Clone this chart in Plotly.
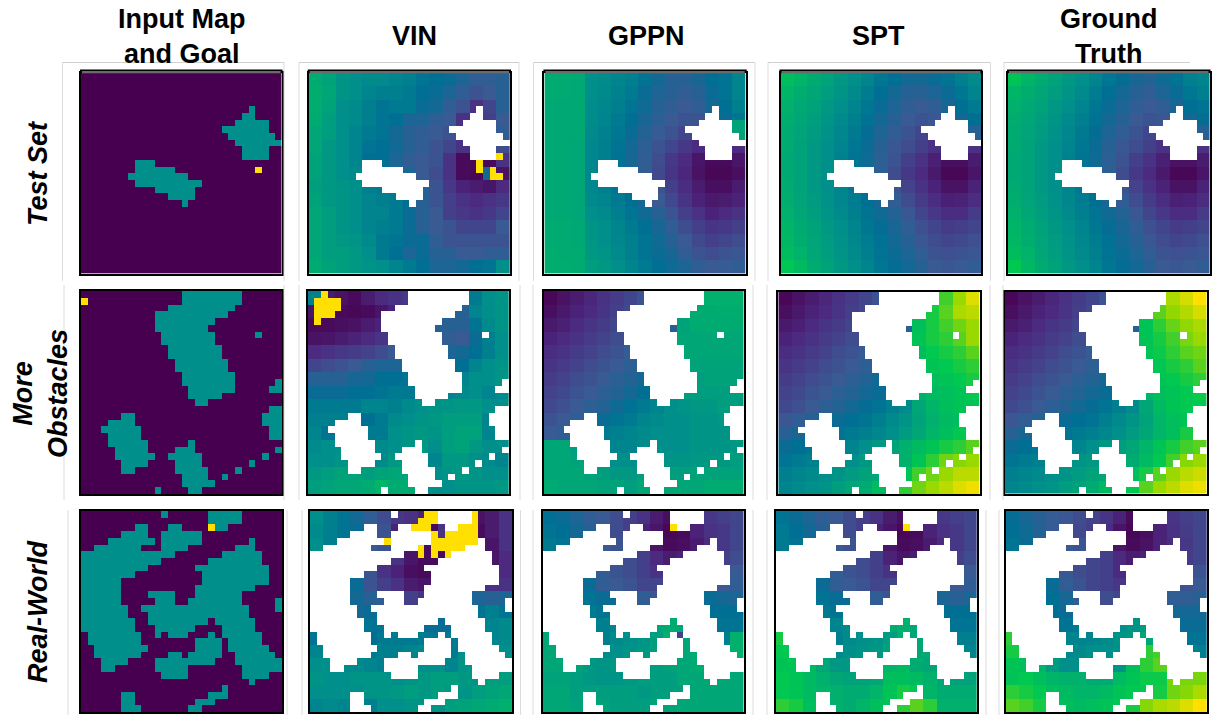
import numpy as np
import plotly.graph_objects as go

W, H = 1213, 715
COL_TITLES = ["Input Map<br>and Goal", "VIN", "GPPN", "SPT", "Ground<br>Truth"]
ROW_TITLES = ["Test Set", "More<br>Obstacles", "Real-World"]

# cells (row by row, inclusive column spans) that are obstacles, 30 x 30 grid
TEST_OBST = ["", "", "", "", "", "25", "24-25", "23-27", "21-27", "22-28", "23-29", "24-27", "24-27",
             "8-10", "8-13", "7-15", "8-17", "11-16", "13-16", "15", "", "", "", "", "", "", "", "", "", ""]
TEST_GOAL = (14, 26)
MORE_OBST = ["15-23", "15-23", "13-22", "11-21", "11-19", "11-18", "12-19,26", "12-19", "13-20", "13-20",
             "14-21", "14-21", "15-22", "15-22,29", "16-22,28-29", "16-20", "17-18", "28-29",
             "6-7,27-29", "4-7,27-29", "3-8,28-29", "4-8,28-29", "4-9,16", "5-9,14-16,29",
             "5-10,13-17,27", "6-9,14-17,25", "6-7,14-18,23", "15-18,21", "15-19", "11,16-17"]
MORE_GOAL = (1, 0)
REAL_OBST = ["12,19-23", "19-23", "8-9,13-14,19-21", "6-9,12-17", "4-10,12-17,25", "2-8,12-15,23-25",
             "0-13,21-26", "0-11,19-26", "0-9,17-27", "0-7,18-27", "0-5,18-27", "0-5,17-25",
             "0-5,10-13,17-23", "0-5,11-13,16-23,29", "0-6,9-24,29", "0-6,10-24", "0-7,10-18,20-25",
             "0-7,11-16,21-25", "1-8,11,13-15,19,21-26", "1-8,17-20,22-26", "2-9,17-20,22-27",
             "2-8,13-14,16-20,23-28", "3-6,11-19,23-29", "3-4,11-15,24-29", "12-15,24-27", "25", "21",
             "6-7,19-21", "6-7,17-19", "6-8,16-17"]
REAL_GOAL = (2, 19)

# estimated value levels, 0 = goal side (dark) .. 100 = far side (yellow), in blocks of 2 x 2 cells
TEST_VIN = """62 58 52 50 48 48 46 44 40 38 36 32 28 28 30
63 60 52 50 46 44 44 42 38 36 32 28 24 26 30
63 58 50 48 44 40 42 42 36 34 28 24 14 20 30
62 56 50 48 44 40 38 32 32 28 26 14 14 18 26
60 56 50 46 42 40 34 30 28 26 24 20 18 14 28
60 54 50 46 40 38 34 30 28 24 20 14 12 14 22
58 54 50 46 38 38 32 28 26 24 14 3 2 5 14
58 54 50 48 44 38 34 32 26 22 14 3 2 2 5
56 54 52 50 44 42 38 38 30 24 16 10 8 6 12
58 54 52 50 46 44 42 38 30 24 18 14 12 14 16
60 56 52 50 46 46 42 36 30 26 18 16 14 16 20
60 56 52 50 46 44 42 36 30 26 24 20 20 20 26
60 56 54 52 48 42 40 36 36 28 24 24 24 24 24
60 56 56 54 50 42 38 32 36 30 30 26 26 28 28
62 58 56 54 52 50 46 42 38 32 32 34 38 40 50"""
TEST_GPPN = """62 62 61 50 49 46 44 40 34 30 30 33 38 40 46
62 62 61 50 48 45 42 36 32 30 28 30 36 40 46
61 61 61 49 47 44 40 35 30 28 26 28 34 38 44
61 61 61 49 46 42 38 33 29 26 24 24 30 36 40
61 61 61 48 45 41 36 31 27 24 20 20 22 28 30
61 61 60 47 44 40 34 29 24 20 16 12 10 10 12
61 61 60 47 44 39 33 28 22 16 12 6 3 3 6
61 61 60 47 44 39 34 28 21 15 11 5 2 2 4
61 61 60 47 44 40 36 30 24 18 13 8 4 4 8
61 61 60 48 46 42 38 33 26 21 15 10 7 8 10
61 61 60 50 48 44 40 35 30 24 18 14 10 12 14
62 62 61 52 50 46 42 38 33 28 22 18 15 16 18
62 62 61 53 50 47 44 40 35 30 26 21 18 20 22
63 62 62 54 52 48 44 40 36 33 28 24 22 24 25
63 63 62 56 54 50 46 42 38 35 32 28 26 27 28"""
TEST_SPT = """70 66 62 58 54 50 46 41 38 34 34 36 40 44 48
66 63 60 56 52 48 43 38 34 30 30 32 36 41 46
64 61 58 54 50 46 41 36 32 28 26 28 33 38 42
63 60 56 52 48 44 39 34 30 26 24 25 30 34 38
62 59 55 51 47 42 37 32 28 24 20 20 22 28 30
62 58 54 50 46 41 36 30 25 22 18 14 10 12 14
61 58 54 50 45 40 35 29 24 18 14 9 4 4 8
61 58 54 50 45 40 36 29 22 16 12 7 2 2 6
62 58 54 50 46 41 37 32 24 19 14 10 5 5 10
63 59 55 51 47 43 38 33 28 22 17 13 9 10 13
64 60 56 52 48 44 40 35 31 25 20 16 13 13 17
66 62 58 54 50 46 41 37 33 28 23 20 17 18 20
67 63 59 55 51 47 43 39 34 30 25 22 20 21 23
69 65 60 56 52 48 44 40 36 32 28 24 23 24 25
73 68 62 58 54 50 46 41 37 34 30 26 25 26 28"""
TEST_GT = """72 66 62 58 54 50 46 41 37 33 31 35 40 44 46
66 63 60 56 52 48 43 38 34 30 28 32 36 41 44
64 61 58 54 50 46 41 36 32 28 26 28 33 38 40
63 60 56 52 48 44 39 34 30 26 24 25 30 34 37
62 59 55 51 47 42 37 32 28 24 20 20 22 28 30
62 58 54 50 46 41 36 30 25 22 18 14 10 12 14
61 58 54 50 45 40 35 29 24 18 14 9 5 5 8
61 58 54 50 45 40 36 29 22 16 12 7 2 2 6
62 58 54 50 46 41 37 32 24 19 14 10 5 5 10
63 59 55 51 47 43 38 33 28 22 17 13 9 10 13
64 60 56 52 48 44 40 35 31 25 20 16 13 13 17
66 62 58 54 50 46 41 37 33 28 23 20 17 18 20
67 63 59 55 51 47 43 39 34 30 25 22 20 21 23
69 65 60 56 52 48 44 40 36 32 28 24 23 24 25
74 67 62 58 54 50 46 41 37 34 30 26 25 26 28"""

MORE_VIN = """45 8 5 3 8 12 14 16 22 26 26 26 42 50 52
6 3 3 2 3 6 10 12 6 18 30 30 46 50 52
3 3 4 5 8 10 14 12 4 30 30 30 40 48 52
5 6 8 10 12 15 16 18 24 24 28 26 36 44 50
12 14 16 17 19 22 26 30 30 40 32 34 38 44 50
20 22 24 26 30 32 32 34 30 30 36 38 46 50 52
30 30 30 33 34 38 38 40 42 42 42 46 50 50 52
36 36 36 38 38 40 42 42 44 46 46 48 50 46 48
42 42 42 42 46 46 44 48 50 52 52 54 54 50 50
44 44 44 40 38 42 48 50 52 54 56 56 56 46 42
46 40 38 40 42 42 50 52 54 52 56 58 58 46 44
48 50 50 46 46 48 50 52 54 50 56 58 54 50 50
50 50 52 48 46 48 54 54 48 46 54 54 50 48 46
54 56 58 58 56 58 60 58 54 50 52 54 52 50 50
56 58 60 60 62 66 62 62 60 50 50 52 52 52 54"""
MORE_GPPN = """2 5 8 11 14 17 20 24 28 30 30 30 64 64 64
4 7 10 12 15 18 21 24 28 30 30 62 62 63 63
7 9 12 15 17 20 23 26 28 30 58 62 62 62 62
10 12 14 17 19 22 25 28 30 58 60 60 60 60 60
13 14 17 19 22 24 27 30 32 56 60 60 60 60 60
15 17 19 22 24 26 29 31 34 56 58 58 58 58 58
17 19 22 24 26 29 31 34 38 54 56 56 58 58 58
19 21 24 26 29 31 34 38 44 52 56 56 56 56 56
21 23 26 29 31 35 39 42 46 50 52 54 54 56 56
24 26 29 31 36 40 42 46 48 50 50 52 52 54 54
26 28 36 38 42 44 46 48 50 50 50 52 52 52 52
60 60 56 52 48 46 46 48 50 50 50 52 52 52 54
60 60 58 54 50 50 50 54 52 52 52 54 54 54 56
60 60 60 58 56 54 54 56 56 56 56 58 58 58 58
62 60 60 60 58 58 56 60 60 60 60 60 62 62 62"""
MORE_SPT = """2 5 8 11 14 17 20 24 28 30 30 30 80 88 96
4 7 10 12 15 18 21 24 28 30 30 76 82 90 92
7 9 12 15 17 20 23 26 28 30 70 76 80 84 88
10 12 14 17 19 22 25 28 30 60 72 76 78 82 88
13 14 17 19 22 24 27 30 32 60 70 74 76 78 82
15 17 19 22 24 26 29 31 34 62 68 72 74 76 78
17 19 22 24 26 29 31 34 36 62 68 70 72 74 76
19 21 24 26 29 31 34 36 40 54 64 68 70 72 74
21 23 26 29 31 34 37 40 44 48 60 66 70 72 72
25 28 31 34 36 38 40 44 48 52 58 64 68 70 72
30 33 35 38 40 42 44 47 50 55 60 66 70 74 76
36 38 40 42 44 46 50 54 58 64 68 72 76 78 82
40 42 44 46 48 50 54 58 60 64 72 78 84 86 88
44 46 48 50 52 55 58 60 64 72 80 84 88 92 92
46 48 50 52 56 60 62 68 70 78 84 88 92 96 98"""
MORE_GT = """2 5 8 11 14 17 20 24 28 30 30 30 90 95 100
4 7 10 12 15 18 21 24 28 30 30 82 87 91 95
7 9 12 15 17 20 23 26 28 30 72 78 83 87 90
10 12 14 17 19 22 25 28 30 60 72 76 80 85 88
13 14 17 19 22 24 27 30 32 60 72 75 78 82 84
15 17 19 22 24 26 29 31 34 64 70 73 76 78 82
17 19 22 24 26 29 31 34 36 60 68 72 74 76 78
19 21 24 26 29 31 34 36 40 52 66 70 72 74 75
21 23 26 29 31 34 37 40 44 48 60 68 72 74 74
25 28 31 34 36 38 40 44 48 52 58 66 70 72 72
30 33 35 38 40 42 44 47 50 55 60 66 70 76 76
36 38 40 42 44 46 50 54 56 60 66 72 76 80 82
40 42 44 46 48 52 54 56 60 62 68 74 80 86 88
44 46 48 50 52 55 58 60 64 70 76 82 88 92 94
46 48 50 52 56 58 62 68 70 74 82 88 92 96 98"""

REAL_VIN = """50 44 40 34 28 22 16 14 10 8 8 8 5 8 14
48 44 40 36 30 24 10 8 5 3 3 3 3 8 14
50 44 38 30 26 24 14 8 5 3 3 3 3 6 14
48 44 40 32 24 18 14 6 3 3 3 3 3 6 12
44 40 36 32 24 14 10 4 3 3 6 8 8 8 12
40 36 38 36 24 18 14 8 6 12 12 16 20 14 14
38 36 34 34 30 28 20 18 14 16 22 28 32 30 32
36 40 34 34 36 34 34 32 30 30 36 36 40 44 40
40 40 38 40 40 40 42 36 36 36 36 36 44 46 48
40 46 42 40 38 42 42 42 42 40 42 48 44 46 48
46 46 44 46 42 44 44 46 48 44 42 50 46 50 50
50 50 48 48 46 44 46 50 50 50 46 52 50 50 50
52 50 50 52 52 52 50 52 54 56 56 54 52 56 56
50 50 50 50 52 52 54 56 54 56 54 52 56 58 60
46 48 46 42 44 50 50 52 52 52 56 58 60 62 64"""
REAL_GPPN = """38 36 32 28 26 22 18 14 8 4 8 14 16 18 20
40 38 34 30 26 22 18 10 6 2 3 10 14 16 20
42 40 36 32 26 24 20 14 6 3 4 8 12 16 20
44 40 38 34 30 24 22 18 12 8 10 12 16 18 22
44 42 40 36 28 24 22 18 14 12 14 18 20 24 26
44 42 40 36 28 26 24 20 20 18 18 22 26 26 28
44 44 42 40 36 36 30 28 24 26 30 32 36 34 32
44 44 42 42 40 40 38 40 44 46 52 38 38 38 38
44 42 42 46 44 46 46 48 60 62 60 40 40 40 40
60 60 58 46 44 48 50 52 56 64 60 64 42 44 64
60 60 58 52 48 50 52 54 56 58 60 62 58 60 64
60 60 58 54 52 54 56 58 56 58 60 62 58 60 60
58 58 56 54 52 52 54 56 56 56 60 60 60 60 60
60 60 56 56 56 56 56 54 56 56 56 60 60 60 60
60 60 58 58 58 56 56 56 58 58 60 60 60 60 60"""
REAL_SPT = """40 36 32 28 26 22 18 14 8 4 8 14 16 18 20
42 38 34 30 26 22 18 10 6 2 3 10 14 16 20
42 40 36 32 26 24 20 14 6 3 4 8 12 16 20
42 40 38 34 30 24 22 18 10 6 8 12 16 18 22
44 42 40 36 28 24 22 18 14 12 14 18 20 24 26
44 42 40 36 28 26 24 20 20 18 18 22 26 26 28
44 44 42 40 36 36 30 28 24 26 30 32 32 30 32
44 44 42 42 40 40 38 40 46 48 52 38 38 38 38
44 44 42 46 46 48 46 48 62 64 60 40 40 40 40
76 72 68 46 44 48 50 52 56 64 60 64 42 44 44
74 72 70 54 48 50 52 54 58 60 60 62 60 46 46
72 72 68 60 54 54 56 64 66 68 62 60 58 54 52
74 72 68 64 60 58 58 60 70 70 68 64 60 58 58
74 72 68 66 64 62 62 66 72 76 74 66 62 62 62
78 76 70 66 64 62 66 70 72 78 82 78 64 64 64"""
REAL_GT = """37 33 30 27 25 22 19 15 10 3 6 12 15 18 20
38 35 31 27 25 21 18 13 6 2 4 10 14 17 20
40 36 32 30 26 24 22 14 6 3 5 10 13 16 20
40 38 34 30 28 24 20 18 12 8 10 12 15 17 20
44 40 36 30 25 22 20 18 12 8 10 14 16 20 24
44 42 40 36 28 24 20 18 16 14 14 16 20 24 26
44 42 40 38 33 28 24 22 20 20 22 24 28 28 30
44 42 40 38 36 35 30 28 24 26 28 30 34 34 34
44 42 40 42 40 42 44 42 50 52 55 36 36 36 36
78 70 60 48 46 46 46 48 52 54 60 82 40 40 40
76 72 70 50 48 48 50 50 50 56 78 80 44 45 44
72 70 66 55 50 50 48 50 52 70 78 82 70 44 44
72 74 70 66 64 64 62 62 68 72 75 75 85 85 85
78 76 74 70 68 66 66 68 72 74 74 76 84 86 90
82 80 76 72 70 68 70 72 74 76 86 90 92 96 100"""

# single cells that stand out from their surroundings: (level, row, span)
TEST_VIN_CELLS = [(100, 12, "28"), (100, 13, "25"), (100, 14, "25,27"), (100, 15, "27-28"),
                  (34, 14, "26"), (34, 15, "26"), (3, 13, "26-27"), (3, 12, "23")]
TEST_GPPN_CELLS = [(58, 7, "28-29"), (58, 8, "28-29"), (58, 9, "29")]
MORE_VIN_CELLS = [(100, 0, "2"), (100, 1, "1-4"), (100, 2, "1-4"), (100, 3, "1-3"), (100, 4, "1")]
REAL_VIN_CELLS = [(100, 0, "17-18,24"), (100, 1, "16-18,24"), (100, 2, "15-17,22-24"), (100, 3, "18,20-24"),
                  (100, 4, "11,18-24"), (100, 5, "16,18-22"), (100, 6, "16,18,20"),
                  (14, 2, "19"), (14, 3, "19"), (3, 5, "17"), (3, 6, "17,19")]
REAL_GPPN_CELLS = [(18, 18, "20"), (100, 2, "19")]
REAL_SPT_CELLS = [(100, 2, "19")]
NO_CELLS = []

# pixel boxes of the panels (left, top, right, bottom)
BOXES = [
    [(81, 72.7, 281.5, 273.5), (308.7, 72.7, 510, 273.5), (544.4, 72.7, 745.7, 273.5), (780.5, 72.7, 981.4, 273.5), (1008, 72.7, 1209.5, 273.5)],
    [(81, 291, 282, 494), (307.7, 291, 509, 494), (543.7, 291, 743.7, 494), (778.3, 292, 979.7, 494), (1004.7, 292, 1206.7, 493.5)],
    [(81, 511, 282, 712), (310, 511, 512, 712), (542.7, 511, 743.7, 712), (776, 511, 976.7, 712), (1005.7, 511, 1207, 712)],
]
COLORS = [[0, "#47004f"], [0.12, "#4b2a80"], [0.26, "#3a5a94"], [0.38, "#006f94"], [0.5, "#008f8a"],
          [0.62, "#00ab72"], [0.74, "#00c850"], [0.87, "#90d800"], [1, "#ffe000"]]


def spans(text):
    out = []
    for part in [p for p in text.split(",") if p]:
        a, _, b = part.partition("-")
        out.extend(range(int(a), int(b or a) + 1))
    return out


def field(text, obst, cells):
    z = np.repeat(np.repeat(np.array([[float(v) for v in r.split()] for r in text.splitlines()]), 2, 0), 2, 1)
    for r, row in enumerate(obst):
        z[r, spans(row)] = np.nan
    for level, r, cols in cells:
        z[r, spans(cols)] = level
    return z


def input_map(obst, goal):
    z = np.zeros((30, 30))
    for r, row in enumerate(obst):
        z[r, spans(row)] = 50
    z[goal] = 100
    return z


GRIDS = [
    [input_map(TEST_OBST, TEST_GOAL), field(TEST_VIN, TEST_OBST, TEST_VIN_CELLS), field(TEST_GPPN, TEST_OBST, TEST_GPPN_CELLS),
     field(TEST_SPT, TEST_OBST, NO_CELLS), field(TEST_GT, TEST_OBST, NO_CELLS)],
    [input_map(MORE_OBST, MORE_GOAL), field(MORE_VIN, MORE_OBST, MORE_VIN_CELLS), field(MORE_GPPN, MORE_OBST, NO_CELLS),
     field(MORE_SPT, MORE_OBST, NO_CELLS), field(MORE_GT, MORE_OBST, NO_CELLS)],
    [input_map(REAL_OBST, REAL_GOAL), field(REAL_VIN, REAL_OBST, REAL_VIN_CELLS), field(REAL_GPPN, REAL_OBST, REAL_GPPN_CELLS),
     field(REAL_SPT, REAL_OBST, REAL_SPT_CELLS), field(REAL_GT, REAL_OBST, NO_CELLS)],
]

fig = go.Figure()
layout = {}
n = 0
shapes = []
for r in range(3):
    for c in range(5):
        n += 1
        x0, y0, x1, y1 = BOXES[r][c]
        fig.add_trace(go.Heatmap(z=GRIDS[r][c], coloraxis="coloraxis", xaxis=f"x{n}", yaxis=f"y{n}",
                                 hoverongaps=False, xgap=0, ygap=0))
        common = dict(showticklabels=False, ticks="", showgrid=False, zeroline=False,
                      showline=True, mirror=True, linecolor="black", linewidth=2)
        layout[f"xaxis{n}"] = dict(domain=[x0 / W, x1 / W], range=[-0.5, 29.5], anchor=f"y{n}", **common)
        layout[f"yaxis{n}"] = dict(domain=[1 - y1 / H, 1 - y0 / H], range=[29.5, -0.5], anchor=f"x{n}", **common)
        if r == 0:
            shapes.append(dict(type="rect", xref="paper", yref="paper", x0=(x0 - 1) / W, x1=(x1 + 1) / W,
                               y0=1 - 71 / H, y1=1 - 69.5 / H, fillcolor="black", line=dict(width=0)))
            shapes.append(dict(type="rect", xref="paper", yref="paper", x0=(x0 + 1) / W, x1=(x1 - 1) / W,
                               y0=1 - 73.2 / H, y1=1 - 71 / H, fillcolor="#6b6b6b", line=dict(width=0)))

# thin light frames left around each panel in the source figure
FRAME_X = [[62.5, 284, 299, 519, 533.5, 755, 768, 990.5, 1004],
           [64, 284, 299, 520, 533, 753, 767, 990, 1003],
           [68, 287, 302, 520.5, 533, 753, 767, 986, 999]]
FRAME_Y = [(62.5, 281), (285, 500), (510, 715)]
for xs, (ya, yb) in zip(FRAME_X, FRAME_Y):
    for x in xs:
        shapes.append(dict(type="line", xref="paper", yref="paper", x0=x / W, x1=x / W, y0=1 - ya / H, y1=1 - yb / H,
                           line=dict(color="#dcdcdc", width=1)))
for xa, xb in [(62.5, 284), (299, 519), (533.5, 755), (768, 990.5), (1004, 1190)]:
    shapes.append(dict(type="line", xref="paper", yref="paper", x0=xa / W, x1=xb / W, y0=1 - 62.5 / H, y1=1 - 62.5 / H,
                       line=dict(color="#d0d0d0", width=1)))

notes = []
FONT = "Liberation Sans"
for text, cx, cy in zip(COL_TITLES, [181.5, 414, 646, 878, 1108], [37, 36, 36, 36, 37]):
    notes.append(dict(text=f"<b>{text}</b>", x=cx / W, y=1 - cy / H, xref="paper", yref="paper", showarrow=False,
                      xanchor="center", yanchor="middle", align="center",
                      font=dict(family=FONT, size=27, color="black")))
for text, cx, cy in zip(ROW_TITLES, [38, 40, 38], [174, 394, 612]):
    notes.append(dict(text=f"<b><i>{text}</i></b>", x=cx / W, y=1 - cy / H, xref="paper", yref="paper", showarrow=False,
                      xanchor="center", yanchor="middle", align="center", textangle=-90,
                      font=dict(family=FONT, size=27, color="black")))

fig.update_layout(width=W, height=H, autosize=False, margin=dict(l=0, r=0, t=0, b=0),
                  paper_bgcolor="white", plot_bgcolor="white", showlegend=False,
                  coloraxis=dict(colorscale=COLORS, cmin=0, cmax=100, showscale=False),
                  shapes=shapes, annotations=notes, **layout)
fig.write_html("out.html", config={"displayModeBar": False},
               post_script="document.body.style.margin='0';document.body.style.overflow='hidden';")
